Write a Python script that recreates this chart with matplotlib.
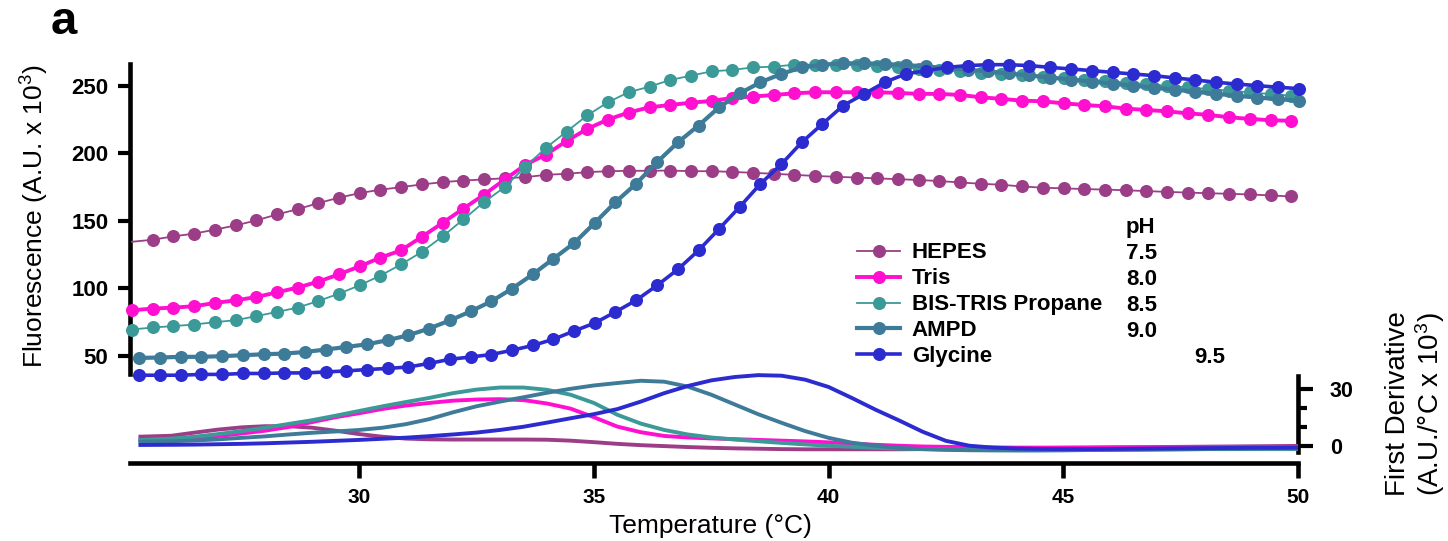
import matplotlib
matplotlib.use("Agg")
import matplotlib.pyplot as plt

plt.rcParams['font.family'] = ['Liberation Sans', 'DejaVu Sans']
plt.rcParams['mathtext.fontset'] = 'custom'
plt.rcParams['mathtext.rm'] = 'Liberation Sans'
plt.rcParams['mathtext.it'] = 'Liberation Sans:italic'

# temperatures of the fluorescence readings (degC)
temp_a = [25.16, 25.60, 26.04, 26.48, 26.92, 27.37, 27.81, 28.25, 28.69, 29.13,
          29.57, 30.01, 30.45, 30.89, 31.33, 31.78, 32.22, 32.66, 33.10, 33.54,
          33.98, 34.42, 34.86, 35.30, 35.74, 36.19, 36.63, 37.07, 37.51, 37.95,
          38.39, 38.83, 39.27, 39.71, 40.15, 40.60, 41.04, 41.48, 41.92, 42.36,
          42.80, 43.24, 43.68, 44.12, 44.56, 45.01, 45.45, 45.89, 46.33, 46.77,
          47.21, 47.65, 48.09, 48.53, 48.97, 49.42, 49.86]
temp_b = [25.32, 25.76, 26.20, 26.64, 27.08, 27.53, 27.97, 28.41, 28.85, 29.29,
          29.73, 30.17, 30.61, 31.05, 31.49, 31.94, 32.38, 32.82, 33.26, 33.70,
          34.14, 34.58, 35.02, 35.46, 35.90, 36.35, 36.79, 37.23, 37.67, 38.11,
          38.55, 38.99, 39.43, 39.87, 40.31, 40.76, 41.20, 41.64, 42.08, 42.52,
          42.96, 43.40, 43.84, 44.28, 44.72, 45.17, 45.61, 46.05, 46.49, 46.93,
          47.37, 47.81, 48.25, 48.69, 49.13, 49.58, 50.02]

# fluorescence (A.U. x 10^3)
hepes = [134.5, 136.0, 138.5, 140.5, 143.4, 146.6, 150.3, 154.7, 158.6, 163.1,
         167.1, 170.5, 173.0, 174.9, 176.9, 178.6, 179.8, 180.6, 181.5, 182.3,
         184.0, 184.8, 186.0, 186.7, 187.0, 187.0, 187.2, 186.7, 186.7, 186.2,
         185.5, 184.8, 184.0, 183.2, 182.6, 182.0, 181.4, 180.8, 180.2, 179.4,
         178.4, 177.4, 176.7, 175.4, 174.5, 174.0, 173.5, 173.1, 172.6, 172.0,
         171.4, 170.9, 170.4, 170.0, 169.5, 168.8, 168.0]
tris = [83.8, 85.1, 85.8, 86.8, 89.2, 91.2, 93.6, 97.1, 100.6, 105.0,
        110.4, 116.3, 122.7, 128.1, 138.0, 148.5, 159.0, 169.3, 180.5, 191.4,
        199.0, 209.0, 218.0, 224.9, 230.1, 234.0, 235.7, 237.4, 238.7, 240.9,
        241.9, 243.1, 244.3, 245.1, 245.1, 245.1, 245.1, 244.6, 243.9, 243.9,
        243.1, 241.4, 240.2, 238.9, 238.4, 236.9, 235.7, 234.7, 233.0, 232.0,
        231.0, 229.5, 228.4, 226.6, 225.4, 224.4, 224.0]
bistris = [69.6, 71.1, 72.1, 73.3, 75.0, 76.5, 79.5, 82.6, 85.8, 90.7,
           96.1, 102.3, 109.4, 117.7, 126.9, 138.5, 151.0, 163.8, 174.9, 190.0,
           204.0, 216.0, 228.0, 237.7, 245.1, 249.3, 254.2, 257.4, 260.6, 261.6,
           263.5, 264.0, 265.5, 265.5, 265.5, 265.0, 264.3, 263.5, 262.5, 261.5,
           260.5, 259.5, 258.5, 257.5, 256.5, 255.5, 254.5, 253.5, 252.3, 251.1,
           249.9, 248.7, 247.5, 246.3, 245.0, 243.8, 242.6]
ampd = [48.6, 48.9, 49.4, 49.4, 49.9, 50.6, 51.3, 51.8, 53.0, 54.8,
        56.7, 58.7, 61.7, 65.4, 70.3, 76.4, 83.1, 90.5, 99.9, 110.4,
        122.0, 133.5, 148.5, 163.8, 177.4, 193.5, 208.0, 220.5, 234.0, 244.3,
        252.5, 258.6, 263.5, 265.5, 266.5, 266.5, 266.0, 265.2, 264.2, 263.0,
        261.8, 260.5, 259.0, 257.5, 256.0, 254.5, 253.0, 251.5, 250.0, 248.5,
        247.0, 245.5, 244.0, 242.5, 241.2, 240.0, 238.9]
glycine = [35.8, 35.8, 35.8, 36.4, 36.4, 37.1, 37.1, 37.5, 37.5, 38.2,
           39.0, 40.0, 40.8, 41.9, 44.5, 47.6, 49.3, 51.1, 54.3, 57.8,
           62.4, 68.5, 74.4, 82.6, 91.2, 102.3, 114.1, 128.1, 144.1, 160.4,
           177.4, 191.7, 208.1, 221.7, 235.2, 243.9, 252.5, 258.6, 261.1, 263.5,
           264.8, 265.5, 265.5, 264.8, 263.5, 262.3, 261.1, 259.8, 258.6, 257.4,
           255.7, 254.2, 252.5, 251.2, 250.0, 248.8, 247.8]

# first derivative (A.U./degC x 10^3)
temp_d = [25.3, 26.0, 26.5, 27.0, 27.5, 28.0, 28.5, 29.0, 29.5, 30.0,
          30.5, 31.0, 31.5, 32.0, 32.5, 33.0, 33.5, 34.0, 34.5, 35.0,
          35.5, 36.0, 36.5, 37.0, 37.5, 38.0, 38.5, 39.0, 39.5, 40.0,
          40.5, 41.0, 41.5, 42.0, 42.5, 43.0, 43.5, 44.0, 44.5, 45.0,
          45.5, 46.0, 46.5, 47.0, 47.5, 48.0, 48.5, 49.0, 49.5, 50.0]
d_hepes = [4.8, 5.3, 7.0, 8.6, 9.8, 10.4, 10.4, 9.6, 8.0, 6.2,
           4.8, 3.8, 3.4, 3.3, 3.3, 3.3, 3.3, 3.2, 2.7, 1.9,
           1.0, 0.3, -0.2, -0.7, -1.1, -1.4, -1.6, -1.8, -1.9, -1.9,
           -1.9, -1.9, -1.9, -1.8, -1.7, -1.6, -1.5, -1.4, -1.2, -1.1,
           -1.0, -0.9, -0.8, -0.7, -0.6, -0.5, -0.4, -0.3, -0.2, -0.1]
d_tris = [3.0, 3.6, 4.2, 5.2, 6.5, 8.0, 10.0, 12.6, 15.2, 17.3,
          19.6, 21.4, 22.8, 24.0, 24.6, 24.8, 24.3, 22.5, 19.8, 15.2,
          10.2, 7.2, 5.2, 4.4, 3.9, 3.5, 3.1, 2.7, 2.3, 1.8,
          1.2, 0.5, 0.0, -0.4, -0.6, -0.8, -0.9, -1.0, -1.0, -1.0,
          -1.0, -0.9, -0.9, -0.9, -0.8, -0.8, -0.7, -0.7, -0.6, -0.6]
d_bistris = [3.0, 3.8, 4.8, 6.2, 7.8, 9.6, 11.6, 13.6, 16.0, 18.5,
             21.0, 23.3, 25.5, 28.0, 29.9, 31.0, 31.0, 29.8, 27.2, 22.8,
             16.5, 11.8, 8.4, 6.0, 4.4, 3.3, 2.4, 1.5, 0.7, 0.0,
             -0.6, -1.1, -1.5, -1.8, -2.0, -2.2, -2.3, -2.4, -2.4, -2.4,
             -2.3, -2.2, -2.1, -2.0, -1.9, -1.8, -1.8, -1.7, -1.7, -1.7]
d_ampd = [2.1, 2.4, 2.8, 3.4, 4.2, 5.0, 6.0, 6.9, 7.6, 8.4,
          9.6, 11.5, 14.2, 17.8, 21.0, 23.5, 25.8, 28.2, 30.3, 32.1,
          33.4, 34.6, 34.1, 31.5, 27.2, 22.0, 16.8, 12.2, 7.8, 4.2,
          1.6, 0.0, -1.2, -1.8, -2.2, -2.4, -2.5, -2.5, -2.5, -2.4,
          -2.3, -2.2, -2.1, -2.0, -1.9, -1.8, -1.7, -1.6, -1.5, -1.5]
d_glycine = [0.4, 0.5, 0.6, 0.8, 1.0, 1.3, 1.7, 2.1, 2.6, 3.1,
             3.7, 4.3, 5.1, 6.0, 7.0, 8.4, 10.1, 12.3, 14.6, 16.8,
             19.5, 23.5, 28.0, 31.8, 34.8, 36.6, 37.6, 37.3, 35.2, 31.3,
             25.4, 19.2, 13.5, 7.5, 2.6, 0.0, -1.0, -1.5, -1.7, -1.8,
             -1.8, -1.7, -1.6, -1.5, -1.4, -1.3, -1.2, -1.1, -1.1, -1.0]

buffers = ['HEPES', 'Tris', 'BIS-TRIS Propane', 'AMPD', 'Glycine']
ph_values = ['7.5', '8.0', '8.5', '9.0', '9.5']
colors = ['#9c3d87', '#ff10d0', '#3b9a98', '#3e7b99', '#2b2bd0']
widths = [1.3, 2.8, 1.3, 3.0, 2.6]

W, H = 1448, 541
fig = plt.figure(figsize=(W / 100, H / 100), dpi=100)

def fx(px):
    return px / W

def fy(py):
    return 1 - py / H

ax1 = fig.add_axes([fx(130), fy(374), fx(1298) - fx(130), fy(64) - fy(374)])
ax2 = fig.add_axes([fx(130), fy(463), fx(1298) - fx(130), fy(375.7) - fy(463)])
ax1.patch.set_alpha(0)
ax2.patch.set_alpha(0)

series = [(temp_a, hepes), (temp_a, tris), (temp_a, bistris), (temp_b, ampd), (temp_b, glycine)]
handles = []
for i, (t, f) in enumerate(series):
    mk = slice(1, None) if i == 0 else None
    h, = ax1.plot(t, f, '-o', color=colors[i], lw=widths[i], ms=9.4, mew=0,
                  markevery=mk, clip_on=False, zorder=3 + i)
    handles.append(h)

derivs = [d_hepes, d_tris, d_bistris, d_ampd, d_glycine]
for i, d in enumerate(derivs):
    ax2.plot(temp_d, d, color=colors[i], lw=2.8, solid_capstyle='butt',
             clip_on=False, zorder=3 + i)

xmin, xmax = 25.12, 50.0
for ax in (ax1, ax2):
    ax.set_xlim(xmin, xmax)

# top panel axes
ax1.set_ylim(36.7, 266)
for s in ('top', 'right', 'bottom'):
    ax1.spines[s].set_visible(False)
ax1.spines['left'].set_linewidth(3.3)
ax1.set_xticks([])
ax1.set_yticks([50, 100, 150, 200, 250])
ax1.tick_params(axis='y', length=9, width=3, labelsize=16, pad=6.5)
for lab in ax1.get_yticklabels():
    lab.set_fontweight('bold')

# bottom panel axes
ax2.set_ylim(-9.2, 37.3)
ax2.spines['left'].set_visible(False)
ax2.spines['top'].set_visible(False)
ax2.spines['right'].set_linewidth(3.3)
ax2.spines['right'].set_bounds(-3.5, 37.3)
ax2.spines['bottom'].set_linewidth(3.3)
ax2.yaxis.tick_right()
ax2.set_yticks([0, 30])
ax2.set_yticks([10, 20], minor=True)
ax2.set_xticks([30, 35, 40, 45, 50])
ax2.tick_params(axis='y', which='major', length=11, width=3, labelsize=15.5, pad=12)
ax2.tick_params(axis='y', which='minor', length=6.5, width=3)
ax2.tick_params(axis='x', length=11, width=3.3, labelsize=15, pad=7)
for lab in ax2.get_yticklabels() + ax2.get_xticklabels():
    lab.set_fontweight('bold')

# axis titles
fig.text(fx(35), fy(216), 'Fluorescence (A.U. x 10$^3$)', rotation=90,
         ha='center', va='center', fontsize=19)
fig.text(fx(710), fy(533), 'Temperature (\u00b0C)', ha='center', va='baseline', fontsize=19)
fig.text(fx(1416), fy(404), 'First Derivative\n(A.U./\u00b0C x 10$^3$)', rotation=90,
         ha='center', va='center', fontsize=20, multialignment='center', linespacing=1.05)
fig.text(fx(51), fy(22), 'a', fontsize=34, fontweight='bold', ha='left', va='center')

# legend with pH column
leg = fig.legend(handles, buffers, loc='upper left',
                 bbox_to_anchor=(fx(857), fy(242.5)), bbox_transform=fig.transFigure,
                 frameon=False, borderpad=0, borderaxespad=0, handlelength=1.95,
                 handletextpad=0.52, labelspacing=0.22,
                 prop={'weight': 'bold', 'size': 16})
fig.text(fx(1126), fy(233), 'pH', fontsize=16, fontweight='bold', ha='left', va='baseline')
row_y = [250.7, 276.7, 302.7, 328.7, 355.0]
for i, ph in enumerate(ph_values):
    x = 1194 if i == 4 else 1126
    fig.text(fx(x), fy(row_y[i] + 8), ph, fontsize=16, fontweight='bold',
             ha='left', va='baseline')

fig.savefig('out.png', dpi=100)
